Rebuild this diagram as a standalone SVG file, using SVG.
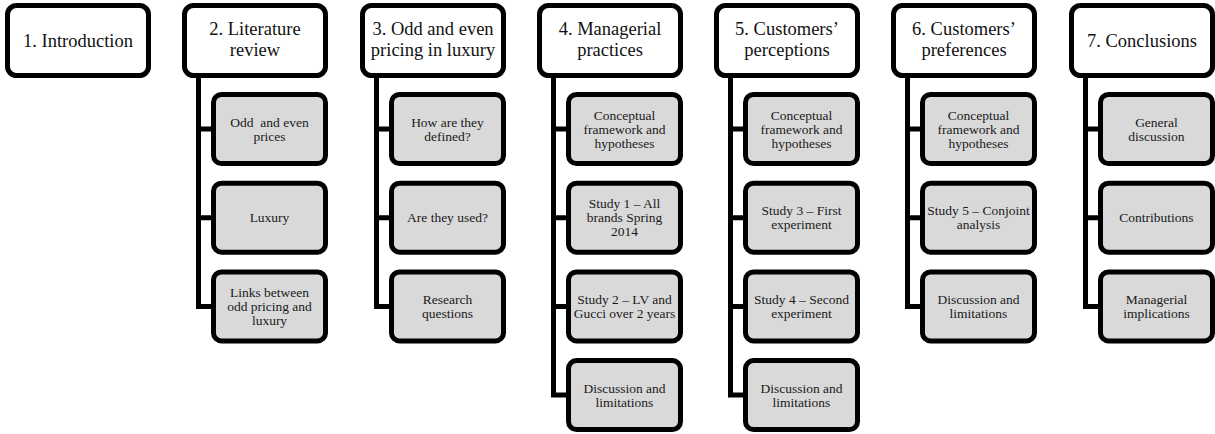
<svg xmlns="http://www.w3.org/2000/svg" width="1215" height="434" viewBox="0 0 1215 434">
<style>
.top{fill:#fff;stroke:#000;stroke-width:5}
.sub{fill:#d9d9d9;stroke:#000;stroke-width:5}
.conn{fill:none;stroke:#000;stroke-width:5;stroke-linejoin:miter}
.tt{font-family:"Liberation Serif","Times New Roman",serif;font-size:18.5px;fill:#111;text-anchor:middle}
.st{font-family:"Liberation Serif","Times New Roman",serif;font-size:13.5px;fill:#1a1a1a;text-anchor:middle}
</style>
<rect width="1215" height="434" fill="#fff"/>
<g id="connectors">
<path class="conn" d="M198.5,76 V306.4 H213 M198.5,129 H213 M198.5,217.7 H213"/>
<path class="conn" d="M376.5,76 V306.4 H391 M376.5,129 H391 M376.5,217.7 H391"/>
<path class="conn" d="M553.5,76 V395.1 H568 M553.5,129 H568 M553.5,217.7 H568 M553.5,306.4 H568"/>
<path class="conn" d="M730.5,76 V395.1 H745 M730.5,129 H745 M730.5,217.7 H745 M730.5,306.4 H745"/>
<path class="conn" d="M907.5,76 V306.4 H922 M907.5,129 H922 M907.5,217.7 H922"/>
<path class="conn" d="M1085.5,76 V306.4 H1100 M1085.5,129 H1100 M1085.5,217.7 H1100"/>
</g>
<g id="n1"><rect class="top" x="7.5" y="5.5" width="141" height="70" rx="9"/><text class="tt" x="78" y="46.5">1. Introduction</text></g>
<g id="n2"><rect class="top" x="184.5" y="5.5" width="141" height="70" rx="9"/><text class="tt" x="255" y="35">2. Literature</text><text class="tt" x="255" y="55.5">review</text></g>
<g id="n3"><rect class="top" x="362.5" y="5.5" width="141" height="70" rx="9"/><text class="tt" x="433" y="35">3. Odd and even</text><text class="tt" x="433" y="55.5">pricing in luxury</text></g>
<g id="n4"><rect class="top" x="539.5" y="5.5" width="141" height="70" rx="9"/><text class="tt" x="610" y="35">4. Managerial</text><text class="tt" x="610" y="55.5">practices</text></g>
<g id="n5"><rect class="top" x="716.5" y="5.5" width="141" height="70" rx="9"/><text class="tt" x="787" y="35">5. Customers’</text><text class="tt" x="787" y="55.5">perceptions</text></g>
<g id="n6"><rect class="top" x="893.5" y="5.5" width="141" height="70" rx="9"/><text class="tt" x="964" y="35">6. Customers’</text><text class="tt" x="964" y="55.5">preferences</text></g>
<g id="n7"><rect class="top" x="1071.5" y="5.5" width="141" height="70" rx="9"/><text class="tt" x="1142" y="46.5">7. Conclusions</text></g>

<g id="n2a"><rect class="sub" x="213.5" y="94.5" width="112" height="69" rx="8"/><text class="st" x="269.5" y="126.5" xml:space="preserve">Odd  and even</text><text class="st" x="269.5" y="140.5">prices</text></g>
<g id="n2b"><rect class="sub" x="213.5" y="183.2" width="112" height="69" rx="8"/><text class="st" x="269.5" y="222.2">Luxury</text></g>
<g id="n2c"><rect class="sub" x="213.5" y="271.9" width="112" height="69" rx="8"/><text class="st" x="269.5" y="296.9">Links between</text><text class="st" x="269.5" y="310.9">odd pricing and</text><text class="st" x="269.5" y="324.9">luxury</text></g>

<g id="n3a"><rect class="sub" x="391.5" y="94.5" width="112" height="69" rx="8"/><text class="st" x="447.5" y="126.5">How are they</text><text class="st" x="447.5" y="140.5">defined?</text></g>
<g id="n3b"><rect class="sub" x="391.5" y="183.2" width="112" height="69" rx="8"/><text class="st" x="447.5" y="222.2">Are they used?</text></g>
<g id="n3c"><rect class="sub" x="391.5" y="271.9" width="112" height="69" rx="8"/><text class="st" x="447.5" y="303.9">Research</text><text class="st" x="447.5" y="317.9">questions</text></g>

<g id="n4a"><rect class="sub" x="568.5" y="94.5" width="112" height="69" rx="8"/><text class="st" x="624.5" y="119.5">Conceptual</text><text class="st" x="624.5" y="133.5">framework and</text><text class="st" x="624.5" y="147.5">hypotheses</text></g>
<g id="n4b"><rect class="sub" x="568.5" y="183.2" width="112" height="69" rx="8"/><text class="st" x="624.5" y="208.2">Study 1 – All</text><text class="st" x="624.5" y="222.2">brands Spring</text><text class="st" x="624.5" y="236.2">2014</text></g>
<g id="n4c"><rect class="sub" x="568.5" y="271.9" width="112" height="69" rx="8"/><text class="st" x="624.5" y="303.9">Study 2 – LV and</text><text class="st" x="624.5" y="317.9">Gucci over 2 years</text></g>
<g id="n4d"><rect class="sub" x="568.5" y="360.6" width="112" height="69" rx="8"/><text class="st" x="624.5" y="392.6">Discussion and</text><text class="st" x="624.5" y="406.6">limitations</text></g>

<g id="n5a"><rect class="sub" x="745.5" y="94.5" width="112" height="69" rx="8"/><text class="st" x="801.5" y="119.5">Conceptual</text><text class="st" x="801.5" y="133.5">framework and</text><text class="st" x="801.5" y="147.5">hypotheses</text></g>
<g id="n5b"><rect class="sub" x="745.5" y="183.2" width="112" height="69" rx="8"/><text class="st" x="801.5" y="215.2">Study 3 – First</text><text class="st" x="801.5" y="229.2">experiment</text></g>
<g id="n5c"><rect class="sub" x="745.5" y="271.9" width="112" height="69" rx="8"/><text class="st" x="801.5" y="303.9">Study 4 – Second</text><text class="st" x="801.5" y="317.9">experiment</text></g>
<g id="n5d"><rect class="sub" x="745.5" y="360.6" width="112" height="69" rx="8"/><text class="st" x="801.5" y="392.6">Discussion and</text><text class="st" x="801.5" y="406.6">limitations</text></g>

<g id="n6a"><rect class="sub" x="922.5" y="94.5" width="112" height="69" rx="8"/><text class="st" x="978.5" y="119.5">Conceptual</text><text class="st" x="978.5" y="133.5">framework and</text><text class="st" x="978.5" y="147.5">hypotheses</text></g>
<g id="n6b"><rect class="sub" x="922.5" y="183.2" width="112" height="69" rx="8"/><text class="st" x="978.5" y="215.2">Study 5 – Conjoint</text><text class="st" x="978.5" y="229.2">analysis</text></g>
<g id="n6c"><rect class="sub" x="922.5" y="271.9" width="112" height="69" rx="8"/><text class="st" x="978.5" y="303.9">Discussion and</text><text class="st" x="978.5" y="317.9">limitations</text></g>

<g id="n7a"><rect class="sub" x="1100.5" y="94.5" width="112" height="69" rx="8"/><text class="st" x="1156.5" y="126.5">General</text><text class="st" x="1156.5" y="140.5">discussion</text></g>
<g id="n7b"><rect class="sub" x="1100.5" y="183.2" width="112" height="69" rx="8"/><text class="st" x="1156.5" y="222.2">Contributions</text></g>
<g id="n7c"><rect class="sub" x="1100.5" y="271.9" width="112" height="69" rx="8"/><text class="st" x="1156.5" y="303.9">Managerial</text><text class="st" x="1156.5" y="317.9">implications</text></g>
</svg>
